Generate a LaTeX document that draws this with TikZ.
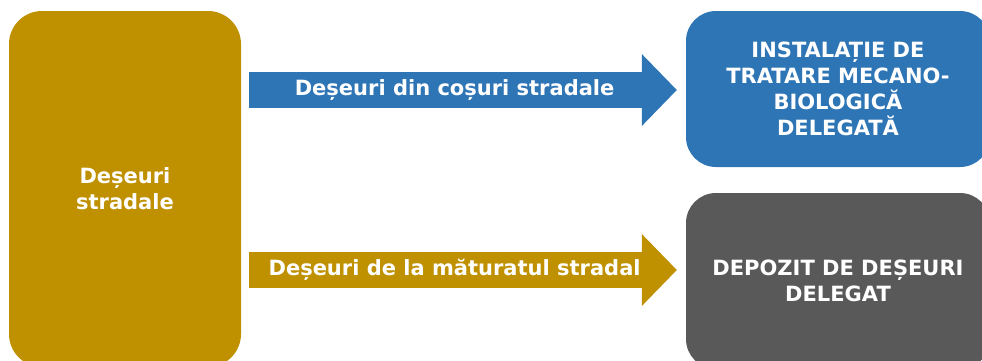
\documentclass[tikz,border=0pt]{standalone}
\usepackage{fontspec}
\setsansfont{DejaVu Sans}
\usepackage{xcolor}
\usepackage{tikz}
\usetikzlibrary{calc}
\usetikzlibrary{arrows.meta}

\definecolor{goldc}{HTML}{BF9000}
\definecolor{bluec}{HTML}{2E75B6}
\definecolor{grayc}{HTML}{595959}

\begin{document}
\begin{tikzpicture}[
    x = 1pt,
    y = -1pt,
    font = \sffamily\bfseries\fontsize{21}{26}\selectfont,
    srcf/.style = {
      rectangle,
      fill=goldc,
      rounded corners=33pt,
      text=white,
      align=center,
      inner sep=0pt,
      minimum width=232pt,
      minimum height=356pt
    },
    dstf/.style = {
      rectangle,
      rounded corners=30pt,
      text=white,
      align=center,
      inner sep=0pt,
      minimum width=304pt
    },
    flowa/.style = {
      line width=36pt,
      shorten <=8pt,
      shorten >=9pt,
      -{Triangle[length=35pt,width=72pt,line width=0pt]}
    },
    labelf/.style = {
      text=white,
      inner sep=0pt,
      pos=.48
    }
  ]
    \useasboundingbox (0,0) rectangle (982,360);
    \clip (0,0) rectangle (982,360);
    \node[srcf] (street) at (125,189) {Deșeuri\\stradale};
    \node[dstf, fill=bluec, minimum height=156pt] (tmb) at (838,89)
      {INSTALAȚIE DE\\TRATARE MECANO-\\BIOLOGICĂ\\DELEGATĂ};
    \node[dstf, fill=grayc, minimum height=176pt] (dump) at (838,281)
      {DEPOZIT DE DEȘEURI\\DELEGAT};
    \coordinate (tmbin) at ([yshift=-1pt]tmb.west);
    \coordinate (dumpin) at ([yshift=11pt]dump.west);
    \draw[flowa, bluec] (street.east |- tmbin) -- (tmbin)
      node[labelf] {Deșeuri din coșuri stradale};
    \draw[flowa, goldc] (street.east |- dumpin) -- (dumpin)
      node[labelf] {Deșeuri de la măturatul stradal};
  \end{tikzpicture}
\end{document}
